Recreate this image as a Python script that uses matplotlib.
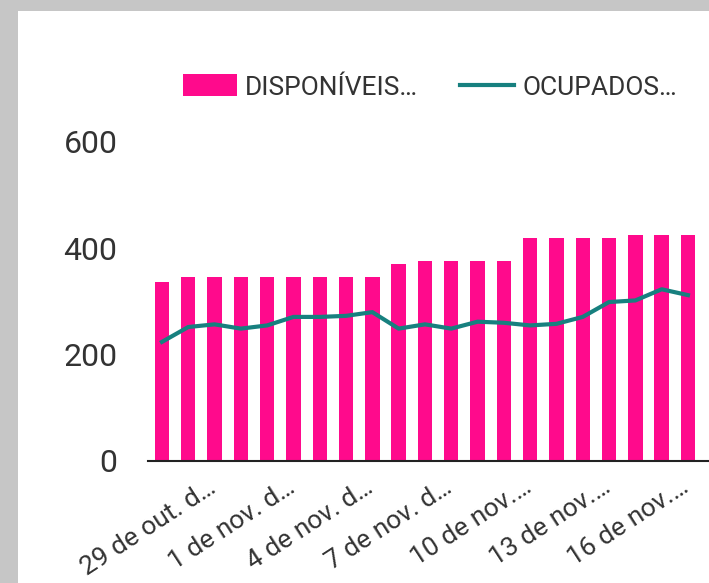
import matplotlib.pyplot as plt
from matplotlib.patches import Rectangle, Patch
from matplotlib.lines import Line2D
import matplotlib.transforms as mtransforms

plt.rcParams['font.family'] = ['Roboto', 'DejaVu Sans']

# dias (29 de out. a 18 de nov.)
datas = ['29 de out. de 2020', '30 de out. de 2020', '31 de out. de 2020',
         '1 de nov. de 2020', '2 de nov. de 2020', '3 de nov. de 2020',
         '4 de nov. de 2020', '5 de nov. de 2020', '6 de nov. de 2020',
         '7 de nov. de 2020', '8 de nov. de 2020', '9 de nov. de 2020',
         '10 de nov. de 2020', '11 de nov. de 2020', '12 de nov. de 2020',
         '13 de nov. de 2020', '14 de nov. de 2020', '15 de nov. de 2020',
         '16 de nov. de 2020', '17 de nov. de 2020', '18 de nov. de 2020']
rotulos = ['29 de out. d…', '1 de nov. d…', '4 de nov. d…', '7 de nov. d…',
           '10 de nov.…', '13 de nov.…', '16 de nov.…']
disponiveis = [336, 346, 346, 346, 346, 346, 346, 346, 346,
               371, 376, 376, 376, 376,
               420, 420, 420, 420, 425, 425, 425]
ocupados = [224, 252, 257, 249, 255, 271, 271, 273, 280,
            249, 257, 249, 262, 260, 255, 258, 271, 299, 302, 323, 312]

rosa = '#ff0a8c'
verde = '#17807f'
cinza_txt = '#333333'

W, H = 709, 583
fig = plt.figure(figsize=(W / 100, H / 100), dpi=100)
fig.patch.set_facecolor('#c6c6c6')
fig.patches.append(Rectangle((18 / W, 0), 1, (H - 11) / H, transform=fig.transFigure,
                             facecolor='white', edgecolor='none', zorder=-10))

ax = fig.add_axes([148 / W, 122 / H, (W - 148) / W, (461 - 142) / H])
ax.set_facecolor('none')
x = list(range(len(datas)))
ax.bar(x, disponiveis, width=0.55, color=rosa, zorder=2)
ax.plot(x, ocupados, color=verde, linewidth=3, zorder=3)

ax.set_xlim(-0.53, 20.8)
ax.set_ylim(0, 600)
ax.set_yticks([0, 200, 400, 600])
ax.tick_params(axis='y', length=0, pad=22, labelsize=23, labelcolor=cinza_txt)
ax.set_xticks(x[::3])
ax.set_xticklabels(rotulos, rotation=33, ha='right', fontsize=19, color=cinza_txt)
ax.tick_params(axis='x', length=0, pad=10)
desloc = mtransforms.ScaledTranslation(58 / 100, 0, fig.dpi_scale_trans)
for lb in ax.get_xticklabels():
    lb.set_transform(lb.get_transform() + desloc)

for s in ['top', 'right', 'left']:
    ax.spines[s].set_visible(False)
ax.spines['bottom'].set_color('#222222')
ax.spines['bottom'].set_linewidth(1.5)
ax.spines['bottom'].set_zorder(4)

alcas = [Patch(facecolor=rosa, edgecolor='none'),
         Line2D([0], [0], color=verde, linewidth=3)]
leg = ax.legend(alcas, ['DISPONÍVEIS…', 'OCUPADOS…'], ncol=2, frameon=False,
                loc='center', bbox_to_anchor=(430 / W, (H - 87) / H),
                bbox_transform=fig.transFigure, fontsize=19,
                handlelength=2.05, handleheight=0.9, handletextpad=0.3,
                columnspacing=1.6)
for t in leg.get_texts():
    t.set_color(cinza_txt)

fig.savefig('out.png', dpi=100)
